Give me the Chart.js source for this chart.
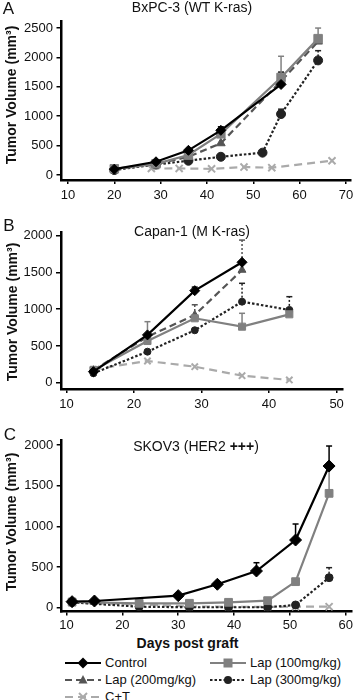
<!DOCTYPE html>
<html><head><meta charset="utf-8">
<script src="https://cdn.jsdelivr.net/npm/chart.js@4.4.1/dist/chart.umd.min.js"></script>
<style>
html,body{margin:0;padding:0;background:#fff;width:359px;height:700px;overflow:hidden;font-family:"Liberation Sans",Arial,sans-serif;color:#111}
canvas{position:absolute;left:0}
.t{position:absolute;white-space:nowrap;font-size:14px;line-height:1;transform:translate(-50%,-50%)}
.yt{position:absolute;white-space:nowrap;font-size:14px;font-weight:bold;line-height:1;transform:translate(-50%,-50%) rotate(-90deg)}
.big{font-size:17px}
.b{font-weight:bold}
.leg{position:absolute;font-size:13px;line-height:14px;height:14px;display:flex;align-items:center;white-space:nowrap}
.leg svg{margin-right:4px}
</style></head><body>
<canvas id="cA" width="359" height="205" style="top:0"></canvas>
<canvas id="cB" width="359" height="210" style="top:205px"></canvas>
<canvas id="cC" width="359" height="210" style="top:420px"></canvas>

<div class="t big" style="left:8.5px;top:7.5px">A</div>
<div class="t" style="left:192px;top:7px">BxPC-3 (WT K-ras)</div>
<div class="yt" style="left:11px;top:95px">Tumor Volume (mm³)</div>

<div class="t big" style="left:9px;top:225px">B</div>
<div class="t" style="left:192px;top:231px">Capan-1 (M K-ras)</div>
<div class="yt" style="left:12px;top:312px">Tumor Volume (mm³)</div>

<div class="t big" style="left:10px;top:434px">C</div>
<div class="t" style="left:196px;top:446px">SKOV3 (HER2 <b>+++</b>)</div>
<div class="yt" style="left:11px;top:522px">Tumor Volume (mm³)</div>
<div class="t b" style="left:187.5px;top:643px">Days post graft</div>

<div class="leg" style="left:65px;top:656px"><svg width="36" height="14"><line x1="0" y1="7" x2="36" y2="7" stroke="#000" stroke-width="2"/><polygon points="18,1.5 23.5,7 18,12.5 12.5,7" fill="#000"/></svg>Control</div>
<div class="leg" style="left:210px;top:656px"><svg width="36" height="14"><line x1="0" y1="7" x2="36" y2="7" stroke="#808080" stroke-width="2"/><rect x="13.5" y="2.5" width="9" height="9" fill="#808080"/></svg>Lap (100mg/kg)</div>
<div class="leg" style="left:65px;top:673px"><svg width="36" height="14"><line x1="0" y1="7" x2="36" y2="7" stroke="#555" stroke-width="2" stroke-dasharray="7,4"/><polygon points="18,2 22.5,10.5 13.5,10.5" fill="#555"/></svg>Lap (200mg/kg)</div>
<div class="leg" style="left:210px;top:673px"><svg width="36" height="14"><line x1="0" y1="7" x2="36" y2="7" stroke="#222" stroke-width="2" stroke-dasharray="2.5,2"/><circle cx="18" cy="7" r="4" fill="#222"/></svg>Lap (300mg/kg)</div>
<div class="leg" style="left:65px;top:690px"><svg width="36" height="14"><line x1="0" y1="7" x2="36" y2="7" stroke="#aaa" stroke-width="2" stroke-dasharray="8,5"/><line x1="14" y1="3" x2="22" y2="11" stroke="#aaa" stroke-width="2"/><line x1="22" y1="3" x2="14" y2="11" stroke="#aaa" stroke-width="2"/></svg>C+T</div>

<script>
// ---------- DATA ----------
// Panel A: BxPC-3 (WT K-ras)
const A_control_days = [20, 29, 36, 43, 56];
const A_control_vol  = [100, 225, 420, 760, 1540];
const A_control_err  = [null, null, null, 820, 1750];
const A_lap100_days  = [20, 29, 36, 43, 56, 64];
const A_lap100_vol   = [105, 190, 340, 700, 1660, 2320];
const A_lap100_err   = [null, null, null, null, 2020, 2500];
const A_lap200_days  = [20, 29, 36, 43, 56, 64];
const A_lap200_vol   = [100, 185, 310, 540, 1600, 2270];
const A_lap300_days  = [20, 29, 36, 43, 52, 56, 64];
const A_lap300_vol   = [85, 180, 243, 310, 380, 1037, 1950];
const A_lap300_err   = [null, null, null, null, null, 1120, 2115];
const A_ct_days      = [28, 34, 41, 48, 54, 67];
const A_ct_vol       = [110, 112, 105, 135, 125, 243];
const A_xTicks = [10, 20, 30, 40, 50, 60, 70];
const A_yTicks = [0, 500, 1000, 1500, 2000, 2500];

// Panel B: Capan-1 (M K-ras)
const B_control_days = [14, 22, 29, 36];
const B_control_vol  = [150, 650, 1252, 1638];
const B_control_err  = [218, null, 1300, null];
const B_lap100_days  = [14, 22, 29, 36, 43];
const B_lap100_vol   = [170, 567, 876, 762, 930];
const B_lap100_err   = [null, 830, null, 944, null];
const B_lap200_days  = [14, 22, 29, 36];
const B_lap200_vol   = [170, 626, 921, 1533];
const B_lap200_err   = [null, null, 1060, 1940];
const B_lap300_days  = [14, 22, 29, 36, 43];
const B_lap300_vol   = [128, 422, 713, 1102, 990];
const B_lap300_err   = [null, null, null, 1352, 1170];
const B_ct_days      = [14, 22, 29, 36, 43];
const B_ct_vol       = [180, 295, 218, 95, 37];
const B_xTicks = [10, 20, 30, 40, 50];
const B_yTicks = [0, 500, 1000, 1500, 2000];

// Panel C: SKOV3 (HER2 +++)
const C_control_days = [11, 15, 30, 37, 44, 51, 57];
const C_control_vol  = [74, 82, 148, 288, 451, 832, 1742];
const C_control_err  = [null, null, null, null, 553, 1029, 1988];
const C_lap100_days  = [11, 23, 32, 39, 46, 51, 57];
const C_lap100_vol   = [70, 54, 54, 66, 86, 320, 1406];
const C_lap100_err   = [null, null, null, null, null, null, 1720];
const C_lap300_days  = [11, 23, 32, 39, 46, 51, 57];
const C_lap300_vol   = [66, 12, 5, 5, 5, 33, 369];
const C_lap300_err   = [null, null, null, null, null, null, 492];
const C_ct_days      = [11, 23, 32, 39, 46, 51, 57];
const C_ct_vol       = [60, 40, 15, 10, 10, 12, 12];
const C_xTicks = [10, 20, 30, 40, 50, 60];
const C_yTicks = [0, 500, 1000, 1500, 2000];

// ---------- STYLES ----------
const FONT = '"Liberation Sans", Arial, sans-serif';
const STY = {
  control: {label: 'Control',        color: '#000000', dash: [],      point: 'rectRot'},
  lap100:  {label: 'Lap (100mg/kg)', color: '#808080', dash: [],      point: 'rect'},
  lap200:  {label: 'Lap (200mg/kg)', color: '#555555', dash: [7, 4],  point: 'triangle'},
  lap300:  {label: 'Lap (300mg/kg)', color: '#222222', dash: [2.5, 2],point: 'circle'},
  ct:      {label: 'C+T',            color: '#aaaaaa', dash: [8, 5],  point: 'crossRot'}
};

function ds(key, days, vol, err, r) {
  const s = STY[key];
  return {
    label: s.label,
    data: days.map((d, i) => ({x: d, y: vol[i]})),
    errUpper: err || null,
    borderColor: s.color, backgroundColor: s.color,
    borderWidth: 2.2, borderDash: s.dash, tension: 0,
    pointStyle: s.point, pointRadius: r[key], pointHoverRadius: r[key],
    pointBorderWidth: key === 'ct' ? 2 : 1,
    pointBackgroundColor: s.color, pointBorderColor: s.color
  };
}

const errorBars = {
  id: 'errorBars',
  beforeDatasetsDraw(chart) {
    const ctx = chart.ctx, y = chart.scales.y;
    chart.data.datasets.forEach((d, i) => {
      if (!d.errUpper) return;
      const meta = chart.getDatasetMeta(i);
      d.errUpper.forEach((e, j) => {
        if (e == null) return;
        const p = meta.data[j];
        const ye = y.getPixelForValue(e);
        ctx.save();
        ctx.strokeStyle = d.borderColor; ctx.lineWidth = 1.5;
        ctx.setLineDash(d.borderDash && d.borderDash.length ? [2, 2] : []);
        ctx.beginPath(); ctx.moveTo(p.x, p.y); ctx.lineTo(p.x, ye); ctx.stroke();
        ctx.setLineDash([]);
        ctx.beginPath(); ctx.moveTo(p.x - 3, ye); ctx.lineTo(p.x + 3, ye); ctx.stroke();
        ctx.restore();
      });
    });
  }
};

function make(id, datasets, g) {
  return new Chart(document.getElementById(id), {
    type: 'line',
    data: {datasets: datasets},
    plugins: [errorBars],
    options: {
      responsive: false, animation: false, devicePixelRatio: 1,
      layout: {padding: {top: g.top, right: g.right, left: 0, bottom: 0}},
      plugins: {legend: {display: false}, tooltip: {enabled: false}},
      scales: {
        x: {
          type: 'linear', min: g.xr[0], max: g.xr[1],
          afterBuildTicks: s => { s.ticks = g.xTicks.map(v => ({value: v})); },
          afterFit: s => { s.height = g.xH; s.paddingLeft = 0; s.paddingRight = 0; },
          ticks: {color: '#111', font: {size: 13, family: FONT}, padding: g.xPad, maxRotation: 0, autoSkip: false, callback: v => String(v)},
          grid: {drawOnChartArea: false, color: '#000', tickColor: '#000', tickLength: 4, lineWidth: 1.5},
          border: {color: '#000', width: 2.5}
        },
        y: {
          type: 'linear', min: g.yr[0], max: g.yr[1],
          afterBuildTicks: s => { s.ticks = g.yTicks.map(v => ({value: v})); },
          afterFit: s => { s.width = g.yW; },
          ticks: {color: '#111', font: {size: 13, family: FONT}, padding: 3.5, autoSkip: false, callback: v => String(v)},
          grid: {drawOnChartArea: false, color: '#000', tickColor: '#000', tickLength: 5, lineWidth: 1.5},
          border: {color: '#000', width: 2.5}
        }
      }
    }
  });
}

const rA = {control: 5, lap100: 6, lap200: 5, lap300: 4.5, ct: 5};
const rB = {control: 5, lap100: 5, lap200: 4.5, lap300: 3.5, ct: 4.5};
const rC = {control: 6, lap100: 5.5, lap200: 4.5, lap300: 4, ct: 5};

make('cA', [
  ds('control', A_control_days, A_control_vol, A_control_err, rA),
  ds('lap100', A_lap100_days, A_lap100_vol, A_lap100_err, rA),
  ds('lap200', A_lap200_days, A_lap200_vol, null, rA),
  ds('lap300', A_lap300_days, A_lap300_vol, A_lap300_err, rA),
  ds('ct', A_ct_days, A_ct_vol, null, rA)
], {top: 21, right: 8, yW: 61.5, xH: 25, xPad: 4, xr: [8.6, 71.1], yr: [-85, 2620], xTicks: A_xTicks, yTicks: A_yTicks});

make('cB', [
  ds('control', B_control_days, B_control_vol, B_control_err, rB),
  ds('lap100', B_lap100_days, B_lap100_vol, B_lap100_err, rB),
  ds('lap200', B_lap200_days, B_lap200_vol, B_lap200_err, rB),
  ds('lap300', B_lap300_days, B_lap300_vol, B_lap300_err, rB),
  ds('ct', B_ct_days, B_ct_vol, null, rB)
], {top: 27, right: 16.3, yW: 61, xH: 26, xPad: 4, xr: [9.2, 50.9], yr: [-86, 2050], xTicks: B_xTicks, yTicks: B_yTicks});

make('cC', [
  ds('control', C_control_days, C_control_vol, C_control_err, rC),
  ds('lap100', C_lap100_days, C_lap100_vol, C_lap100_err, rC),
  ds('lap300', C_lap300_days, C_lap300_vol, C_lap300_err, rC),
  ds('ct', C_ct_days, C_ct_vol, null, rC)
], {top: 20, right: 0, yW: 61.7, xH: 18.5, xPad: 2.5, xr: [9.14, 61.1], yr: [-47, 2062], xTicks: C_xTicks, yTicks: C_yTicks});
</script>
</body></html>
